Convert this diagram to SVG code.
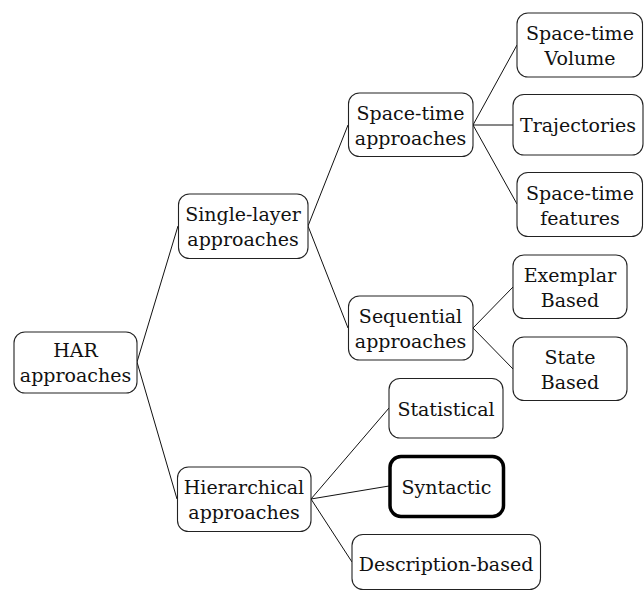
<svg xmlns="http://www.w3.org/2000/svg" width="644" height="591" viewBox="0 0 644 591">
<style>
.box{fill:#fff;stroke:#222;stroke-width:1.1}
.thick{fill:#fff;stroke:#000;stroke-width:3.5}
.t{font-family:"DejaVu Serif",serif;font-size:19px;fill:#111;text-anchor:middle}
.edge{stroke:#111;stroke-width:1;fill:none}
</style>
<rect width="644" height="591" fill="#fff"/>
<g id="connectors">
<line class="edge" x1="137" y1="362" x2="178" y2="226"/>
<line class="edge" x1="137" y1="362" x2="177" y2="499"/>
<line class="edge" x1="308" y1="226" x2="348" y2="125"/>
<line class="edge" x1="308" y1="226" x2="348" y2="328"/>
<line class="edge" x1="473" y1="125" x2="517" y2="45"/>
<line class="edge" x1="473" y1="125" x2="513" y2="125"/>
<line class="edge" x1="473" y1="125" x2="517" y2="204"/>
<line class="edge" x1="473" y1="328" x2="513" y2="287"/>
<line class="edge" x1="473" y1="328" x2="513" y2="369"/>
<line class="edge" x1="311" y1="499" x2="389" y2="408"/>
<line class="edge" x1="311" y1="499" x2="389" y2="486"/>
<line class="edge" x1="311" y1="499" x2="352" y2="562"/>
</g>
<g id="har">
<rect class="box" x="14" y="332" width="123" height="61" rx="11"/>
<text class="t" x="75.5" y="357">HAR</text>
<text class="t" x="75.5" y="382">approaches</text>
</g>
<g id="single-layer">
<rect class="box" x="178.5" y="194" width="129.5" height="64.5" rx="11"/>
<text class="t" x="243" y="221">Single-layer</text>
<text class="t" x="243" y="246">approaches</text>
</g>
<g id="hierarchical">
<rect class="box" x="177.5" y="467" width="133.5" height="64.5" rx="11"/>
<text class="t" x="244" y="494">Hierarchical</text>
<text class="t" x="244" y="519">approaches</text>
</g>
<g id="space-time-approaches">
<rect class="box" x="348.5" y="93" width="124.5" height="63.5" rx="11"/>
<text class="t" x="410.5" y="120">Space-time</text>
<text class="t" x="410.5" y="145">approaches</text>
</g>
<g id="sequential">
<rect class="box" x="348.5" y="296" width="124.5" height="64" rx="11"/>
<text class="t" x="410.5" y="323">Sequential</text>
<text class="t" x="410.5" y="348">approaches</text>
</g>
<g id="space-time-volume">
<rect class="box" x="517" y="13" width="125.5" height="64" rx="11"/>
<text class="t" x="580" y="40">Space-time</text>
<text class="t" x="580" y="65">Volume</text>
</g>
<g id="trajectories">
<rect class="box" x="513" y="94.5" width="130" height="60.5" rx="11"/>
<text class="t" x="578" y="132">Trajectories</text>
</g>
<g id="space-time-features">
<rect class="box" x="517" y="172.5" width="125.5" height="64" rx="11"/>
<text class="t" x="580" y="199.5">Space-time</text>
<text class="t" x="580" y="224.5">features</text>
</g>
<g id="exemplar-based">
<rect class="box" x="513" y="255" width="114" height="63.5" rx="11"/>
<text class="t" x="570" y="282">Exemplar</text>
<text class="t" x="570" y="307">Based</text>
</g>
<g id="state-based">
<rect class="box" x="513" y="337" width="114" height="63.5" rx="11"/>
<text class="t" x="570" y="364">State</text>
<text class="t" x="570" y="389">Based</text>
</g>
<g id="statistical">
<rect class="box" x="389" y="378.5" width="114" height="59.5" rx="11"/>
<text class="t" x="446" y="415.5">Statistical</text>
</g>
<g id="syntactic">
<rect class="thick" x="390" y="456.5" width="113.5" height="60" rx="11"/>
<text class="t" x="446.5" y="494">Syntactic</text>
</g>
<g id="description-based">
<rect class="box" x="352" y="534.5" width="188.5" height="55" rx="11"/>
<text class="t" x="446" y="571">Description-based</text>
</g>
</svg>
